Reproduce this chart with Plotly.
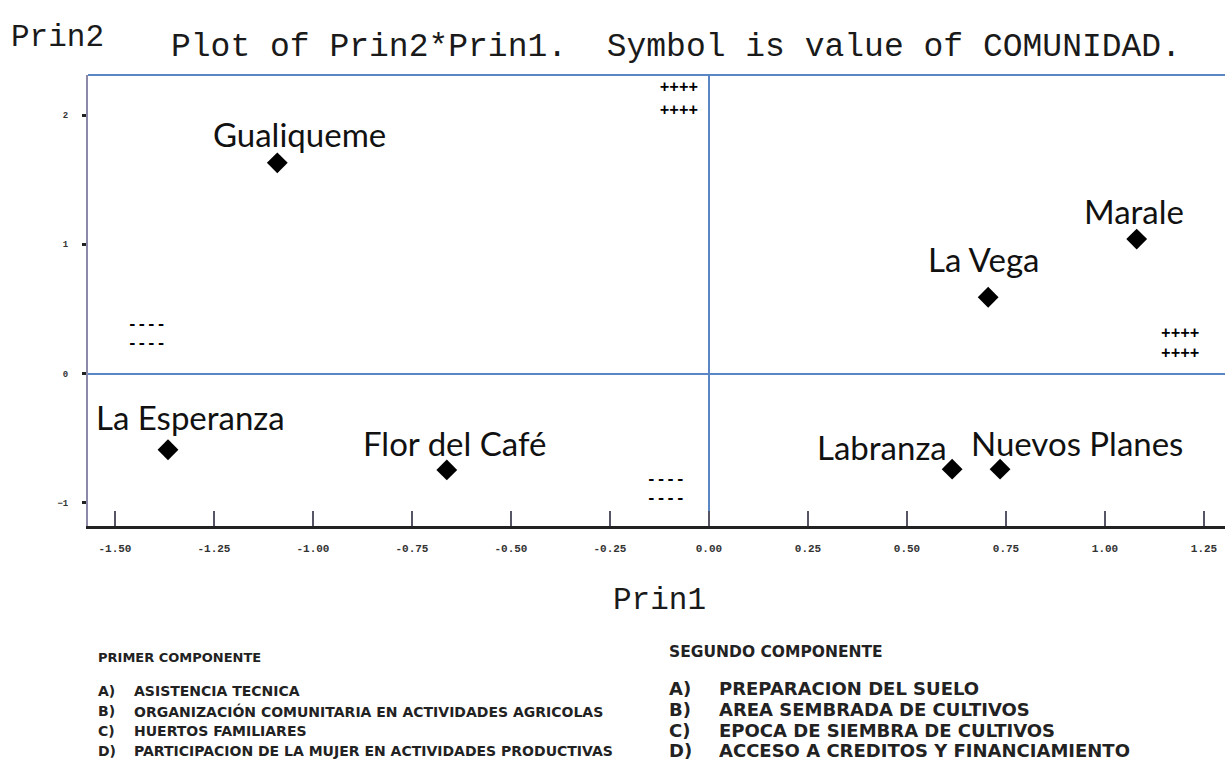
import plotly.graph_objects as go

# ---- data ----
communities = ["Gualiqueme", "Marale", "La Vega", "La Esperanza", "Flor del Café", "Labranza", "Nuevos Planes"]
prin1 = [-1.09, 1.08, 0.705, -1.366, -0.662, 0.614, 0.735]
prin2 = [1.63, 1.04, 0.59, -0.59, -0.746, -0.74, -0.74]

# label offsets in pixels (style)
label_dx = [22, -3, -5, 22, 8, -70, 77]
label_dy = [29, 28, 38, 33, 27, 22, 26]

x_ticks = [-1.50, -1.25, -1.00, -0.75, -0.50, -0.25, 0.00, 0.25, 0.50, 0.75, 1.00, 1.25]
y_ticks = [2, 1, 0, -1]

sign_text = ["++++", "++++", "++++", "++++", "----", "----", "----", "----"]
sign_x = [-0.076, -0.076, 1.19, 1.19, -1.42, -1.42, -0.109, -0.109]
sign_y = [2.207, 2.028, 0.303, 0.148, 0.373, 0.225, -0.824, -0.971]

title_text = "Plot of Prin2*Prin1.  Symbol is value of COMUNIDAD."

primer_title = "PRIMER COMPONENTE"
primer_items = ["ASISTENCIA TECNICA",
                "ORGANIZACIÓN COMUNITARIA EN ACTIVIDADES AGRICOLAS",
                "HUERTOS FAMILIARES",
                "PARTICIPACION DE LA MUJER EN ACTIVIDADES PRODUCTIVAS"]
segundo_title = "SEGUNDO COMPONENTE"
segundo_items = ["PREPARACION DEL SUELO",
                 "AREA SEMBRADA DE CULTIVOS",
                 "EPOCA DE SIEMBRA DE CULTIVOS",
                 "ACCESO A CREDITOS Y FINANCIAMIENTO"]
item_letters = ["A)", "B)", "C)", "D)"]

W, H = 1225, 763
ML, MR, MT, MB = 88, 0, 75, 237
BLUE = "#5b86c5"
MONO = "Liberation Mono, DejaVu Sans Mono, monospace"
SANS = "Lato, Open Sans, sans-serif"
LEG = "DejaVu Sans, sans-serif"

fig = go.Figure()
fig.add_trace(go.Scatter(
    x=prin1, y=prin2, mode="markers",
    marker=dict(symbol="diamond", size=16, color="black"),
    hoverinfo="text", text=communities, showlegend=False))

fig.add_trace(go.Scatter(
    x=sign_x, y=sign_y, mode="text", text=sign_text,
    textfont=dict(family=MONO, size=16, color="black", weight="bold"),
    hoverinfo="skip", showlegend=False))

for name, x, y, dx, dy in zip(communities, prin1, prin2, label_dx, label_dy):
    fig.add_annotation(x=x, y=y, text=name, showarrow=False,
                       xshift=dx, yshift=dy,
                       font=dict(family=SANS, size=33, color="#111"))

fig.update_layout(
    width=W, height=H,
    margin=dict(l=ML, r=MR, t=MT, b=MB),
    plot_bgcolor="white", paper_bgcolor="white",
    showlegend=False,
    xaxis=dict(range=[-1.568, 1.303], tickvals=x_ticks,
               ticktext=[f"{v:.2f}" for v in x_ticks],
               showgrid=False, zeroline=True, zerolinecolor=BLUE, zerolinewidth=2,
               showline=True, linecolor="#222", linewidth=3,
               ticks="inside", ticklen=15, tickwidth=2, tickcolor="#556",
               ticklabelstandoff=10,
               tickfont=dict(family=MONO, size=11, color="#333", weight="bold")),
    yaxis=dict(range=[-1.18, 2.31], tickvals=y_ticks,
               showgrid=False, zeroline=True, zerolinecolor=BLUE, zerolinewidth=2,
               showline=True, linecolor="#8c88a8", linewidth=2,
               ticks="outside", ticklen=4, tickwidth=3, tickcolor="#222",
               ticklabelstandoff=12,
               tickfont=dict(family=MONO, size=9, color="#333", weight="bold")),
)

# top frame line
fig.add_shape(type="line", xref="paper", yref="paper", x0=0, x1=1, y0=1, y1=1,
              line=dict(color=BLUE, width=2))


def px_to_paper(px, py):
    return (px - ML) / (W - ML - MR), 1 - (py - MT) / (H - MT - MB)


def add_text(px, py, text, font, xanchor="left"):
    x, y = px_to_paper(px, py)
    fig.add_annotation(xref="paper", yref="paper", x=x, y=y, text=text,
                       showarrow=False, xanchor=xanchor, yanchor="middle", font=font,
                       borderpad=0)


# titles
add_text(676, 47, title_text, dict(family=MONO, size=33, color="#1a1a1a"), "center")
add_text(10, 37, "Prin2", dict(family=MONO, size=31, color="#1a1a1a"))
add_text(659, 600, "Prin1", dict(family=MONO, size=31, color="#1a1a1a"), "center")

# bottom legend text
f1t = dict(family=LEG, size=13, color="#222", weight="bold")
f1 = dict(family=LEG, size=14, color="#222", weight="bold")
add_text(97, 657, primer_title, f1t)
for letter, item, py in zip(item_letters, primer_items, [691, 711, 731, 751]):
    add_text(97, py, letter, f1)
    add_text(133, py, item, f1)

f2t = dict(family=LEG, size=15.5, color="#222", weight="bold")
f2 = dict(family=LEG, size=18, color="#222", weight="bold")
add_text(668, 652, segundo_title, f2t)
for letter, item, py in zip(item_letters, segundo_items, [688, 709, 730, 750]):
    add_text(668, py, letter, f2)
    add_text(718, py, item, f2)

fig.write_html("out.html", config={"displayModeBar": False},
               post_script="document.body.style.margin='0';document.body.style.overflow='hidden';")
